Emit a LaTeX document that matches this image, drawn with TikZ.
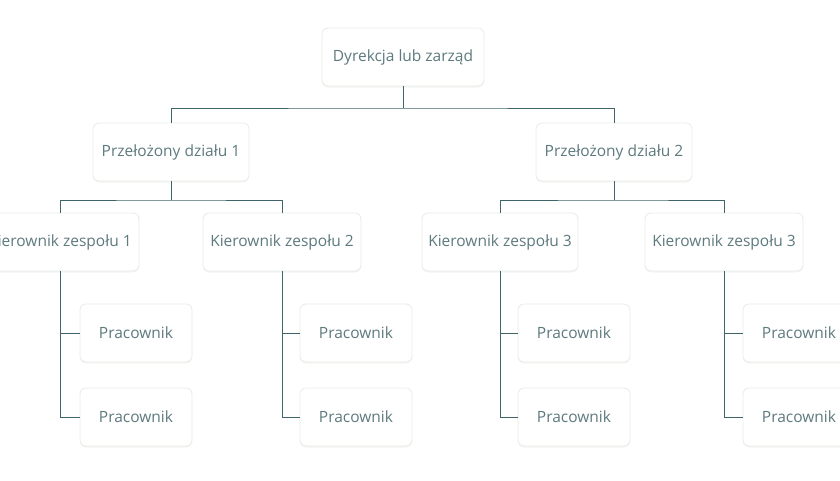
\documentclass[tikz,border=0pt]{standalone}
\usepackage{fontspec}
\setmainfont{Open Sans}
\usetikzlibrary{shadows}
\definecolor{ln}{HTML}{3F6469}
\definecolor{tx}{HTML}{5E7A7E}
\definecolor{bd}{HTML}{E6EDE3}
\begin{document}
\begin{tikzpicture}[x=1pt,y=-1pt,
 box/.style={draw=bd,line width=0.8pt,fill=white,rounded corners=6pt,minimum height=58pt,text=tx,font=\fontsize{15.5}{18}\selectfont,inner xsep=4pt,
   drop shadow={shadow xshift=0pt,shadow yshift=-1.5pt,opacity=0.12,fill=bd!70!black}},
 wk/.style={box,minimum width=112pt},
 con/.style={draw=ln,line width=0.8pt}]
\useasboundingbox (0,0) rectangle (840,480);
\node[box,minimum width=162pt] (top) at (403,57) {Dyrekcja lub zarząd};
\node[box,minimum width=156pt] (p1) at (171,152) {Przełożony działu 1};
\node[box,minimum width=156pt] (p2) at (614,152) {Przełożony działu 2};
\node[box,minimum width=158pt] (k1) at (60,242) {Kierownik zespołu 1};
\node[box,minimum width=158pt] (k2) at (282,242) {Kierownik zespołu 2};
\node[box,minimum width=156pt] (k3) at (500,242) {Kierownik zespołu 3};
\node[box,minimum width=158pt] (k4) at (724,242) {Kierownik zespołu 3};
\foreach \n/\x in {1/136,2/356,3/574,4/799}{
 \node[wk] (a\n) at (\x,333) {Pracownik};
 \node[wk] (b\n) at (\x,417) {Pracownik};
}
\coordinate (j0) at (403,108);
\coordinate (j1) at (171,200);
\coordinate (j2) at (614,200);
\path[con] (top.south) -- (j0) (p1.north) |- (j0) -| (p2.north);
\path[con] (p1.south) -- (j1) (k1.north) |- (j1) -| (k2.north);
\path[con] (p2.south) -- (j2) (k3.north) |- (j2) -| (k4.north);
\foreach \n in {1,2,3,4}{
 \path[con] (k\n.south) |- (b\n.west) (k\n.south |- a\n.west) -- (a\n.west);
}
\end{tikzpicture}
\end{document}
